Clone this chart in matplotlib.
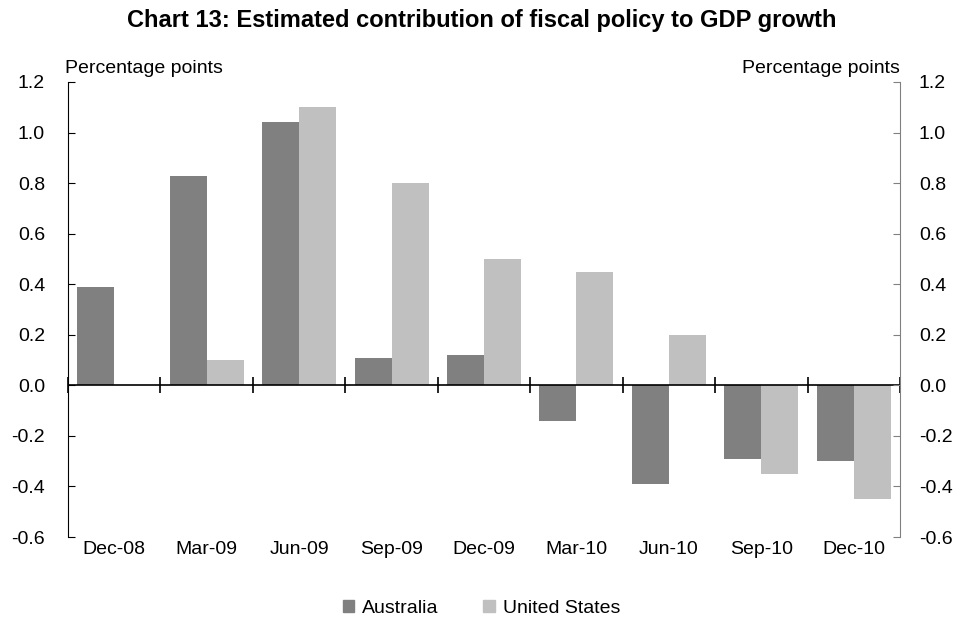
import numpy as np
import matplotlib.pyplot as plt
from matplotlib.patches import Patch

plt.rcParams['font.family'] = ['Liberation Sans', 'DejaVu Sans']

quarters = ['Dec-08', 'Mar-09', 'Jun-09', 'Sep-09', 'Dec-09',
            'Mar-10', 'Jun-10', 'Sep-10', 'Dec-10']
australia = [0.39, 0.83, 1.04, 0.11, 0.12, -0.14, -0.39, -0.29, -0.30]
united_states = [np.nan, 0.10, 1.10, 0.80, 0.50, 0.45, 0.20, -0.35, -0.45]
y_ticks = [-0.6, -0.4, -0.2, 0.0, 0.2, 0.4, 0.6, 0.8, 1.0, 1.2]

aus_col = '#808080'
us_col = '#c0c0c0'
fs = 14

fig = plt.figure(figsize=(9.63, 6.25), dpi=100)
ax = fig.add_axes([0.0706, 0.1408, 0.864, 0.728])

x = np.arange(len(quarters))
w = 0.4
ax.bar(x - w / 2, australia, w, color=aus_col, edgecolor='none')
ax.bar(x + w / 2, united_states, w, color=us_col, edgecolor='none')

ax.set_xlim(-0.5, len(quarters) - 0.5)
ax.set_ylim(-0.6, 1.2)

# zero line with tick marks between the quarters
ax.axhline(0, color='black', lw=1.2)
bounds = np.arange(len(quarters) + 1) - 0.5
ax.plot(bounds, np.zeros_like(bounds), ls='none', marker='|', ms=12,
        mew=1.2, color='black', clip_on=False)

ax.set_xticks(x)
ax.set_xticklabels(quarters, fontsize=fs)
ax.tick_params(axis='x', length=0, pad=3)

ax.set_yticks(y_ticks)
ax.set_yticklabels([f'{v:.1f}' for v in y_ticks], fontsize=fs)
ax.tick_params(axis='y', direction='in', length=5, pad=16.5)

ax2 = ax.twinx()
ax2.set_ylim(-0.6, 1.2)
ax2.set_yticks(y_ticks)
ax2.set_yticklabels([f'{v:.1f}' for v in y_ticks], fontsize=fs)
ax2.tick_params(axis='y', direction='in', length=5, pad=13.5, color='#808080')

for a in (ax, ax2):
    a.spines['top'].set_visible(False)
    a.spines['bottom'].set_visible(False)
ax.spines['left'].set_color('black')
ax.spines['right'].set_visible(False)
ax2.spines['left'].set_visible(False)
ax2.spines['right'].set_color('#808080')

ax.text(-0.004, 1.01, 'Percentage points', transform=ax.transAxes,
        fontsize=fs, ha='left', va='bottom')
ax.text(1.0, 1.01, 'Percentage points', transform=ax.transAxes,
        fontsize=fs, ha='right', va='bottom')

fig.suptitle('Chart 13: Estimated contribution of fiscal policy to GDP growth',
             fontsize=17, fontweight='bold', y=0.986)

handles = [Patch(color=aus_col, label='Australia'),
           Patch(color=us_col, label='United States')]
fig.legend(handles=handles, loc='lower center', bbox_to_anchor=(0.5, -0.015),
           ncol=2, frameon=False, fontsize=fs, handlelength=0.6,
           handleheight=0.6, handletextpad=0.4, columnspacing=2.3)

fig.savefig('out.png', dpi=100)
